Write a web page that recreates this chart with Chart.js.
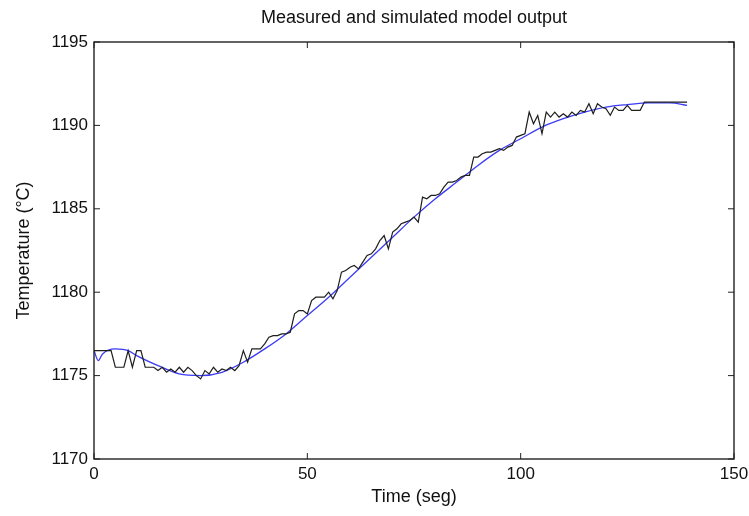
<!DOCTYPE html>
<html>
<head>
<meta charset="utf-8">
<script src="https://cdn.jsdelivr.net/npm/chart.js@4/dist/chart.umd.min.js"></script>
<style>
  html, body { margin: 0; padding: 0; background: #fff; }
  #wrap { width: 749px; height: 516px; }
</style>
</head>
<body>
<div id="wrap"><canvas id="plot"></canvas></div>
<script>
// Measured temperature, one sample per second (t = 0..139)
const measuredTime = [];
for (let t = 0; t <= 139; t++) measuredTime.push(t);
const measuredTemp = [
  1176.5, 1176.5, 1176.5, 1176.5, 1176.5, 1175.5, 1175.5, 1175.5, 1176.5, 1175.5,
  1176.5, 1176.5, 1175.5, 1175.5, 1175.5, 1175.3, 1175.5, 1175.2, 1175.4, 1175.2,
  1175.5, 1175.2, 1175.5, 1175.3, 1175.0, 1174.8, 1175.3, 1175.1, 1175.5, 1175.2,
  1175.4, 1175.3, 1175.5, 1175.3, 1175.6, 1176.5, 1175.8, 1176.6, 1176.6, 1176.6,
  1176.9, 1177.3, 1177.4, 1177.4, 1177.5, 1177.5, 1177.6, 1178.7, 1178.9, 1178.9,
  1178.7, 1179.5, 1179.7, 1179.7, 1179.7, 1180.0, 1179.6, 1180.1, 1181.2, 1181.3,
  1181.5, 1181.6, 1181.4, 1181.8, 1182.2, 1182.3, 1182.6, 1183.1, 1183.4, 1182.6,
  1183.6, 1183.8, 1184.1, 1184.2, 1184.3, 1184.5, 1184.2, 1185.7, 1185.6, 1185.8,
  1185.8, 1185.9, 1186.3, 1186.6, 1186.6, 1186.7, 1186.9, 1187.0, 1187.0, 1188.1,
  1188.1, 1188.3, 1188.4, 1188.4, 1188.5, 1188.6, 1188.5, 1188.7, 1188.8, 1189.3,
  1189.4, 1189.5, 1190.8, 1190.1, 1190.6, 1189.5, 1190.8, 1190.5, 1190.8, 1190.5,
  1190.7, 1190.5, 1190.8, 1190.6, 1190.9, 1190.8, 1191.3, 1190.7, 1191.3, 1191.1,
  1191.0, 1190.6, 1191.1, 1190.9, 1190.9, 1191.2, 1190.9, 1190.9, 1190.9, 1191.4,
  1191.4, 1191.4, 1191.4, 1191.4, 1191.4, 1191.4, 1191.4, 1191.4, 1191.4, 1191.4
];

// Simulated model output
const simTime = [0, 1, 2, 5, 8, 10, 15, 20, 25, 30, 35, 40, 45, 50, 55, 60, 65, 70,
  75, 80, 85, 90, 95, 100, 105, 110, 115, 120, 125, 130, 135, 139];
const simTemp = [1176.5, 1175.9, 1176.3, 1176.6, 1176.5, 1176.2, 1175.6, 1175.1, 1175.0,
  1175.2, 1175.8, 1176.6, 1177.5, 1178.6, 1179.7, 1180.9, 1182.1, 1183.3, 1184.5,
  1185.6, 1186.6, 1187.6, 1188.5, 1189.2, 1189.9, 1190.4, 1190.8, 1191.1, 1191.25,
  1191.35, 1191.35, 1191.2];

const xTicks = [0, 50, 100, 150];
const yTicks = [1170, 1175, 1180, 1185, 1190, 1195];

const toPoints = (xs, ys) => xs.map((x, i) => ({ x: x, y: ys[i] }));

// MATLAB style box with inward tick marks
const boxPlugin = {
  id: 'box',
  afterDraw(chart) {
    const { ctx, chartArea: a, scales } = chart;
    ctx.save();
    ctx.strokeStyle = '#222';
    ctx.lineWidth = 1.4;
    ctx.strokeRect(a.left, a.top, a.right - a.left, a.bottom - a.top);
    ctx.lineWidth = 1;
    ctx.beginPath();
    xTicks.forEach(v => {
      const px = scales.x.getPixelForValue(v);
      ctx.moveTo(px, a.bottom); ctx.lineTo(px, a.bottom - 6);
      ctx.moveTo(px, a.top); ctx.lineTo(px, a.top + 6);
    });
    yTicks.forEach(v => {
      const py = scales.y.getPixelForValue(v);
      ctx.moveTo(a.left, py); ctx.lineTo(a.left + 6, py);
      ctx.moveTo(a.right, py); ctx.lineTo(a.right - 6, py);
    });
    ctx.stroke();
    ctx.restore();
  }
};

const tickFont = { family: 'Arial, "Liberation Sans", sans-serif', size: 17 };
const titleFont = { family: 'Arial, "Liberation Sans", sans-serif', size: 18 };

new Chart(document.getElementById('plot'), {
  type: 'line',
  data: {
    datasets: [{
      label: 'Measured',
      data: toPoints(measuredTime, measuredTemp),
      borderColor: '#1e1e1e',
      borderWidth: 1.2,
      pointRadius: 0,
      tension: 0,
      fill: false
    }, {
      label: 'Simulated',
      data: toPoints(simTime, simTemp),
      borderColor: '#3b3bf5',
      borderWidth: 1.3,
      pointRadius: 0,
      cubicInterpolationMode: 'monotone',
      fill: false
    }]
  },
  options: {
    responsive: true,
    maintainAspectRatio: false,
    animation: false,
    layout: { padding: { top: 0, right: 15, left: 13, bottom: 8 } },
    plugins: {
      legend: { display: false },
      tooltip: { enabled: false },
      title: {
        display: true,
        fullSize: false,
        text: 'Measured and simulated model output',
        color: '#111',
        font: { ...titleFont, weight: 'normal' },
        padding: { top: 7, bottom: 13.4 }
      }
    },
    scales: {
      x: {
        type: 'linear',
        min: 0, max: 150,
        afterBuildTicks: s => { s.ticks = xTicks.map(v => ({ value: v })); },
        afterFit: s => { s.height = 49; s.paddingRight = 0; s.paddingLeft = 0; },
        grid: { display: false, drawTicks: false },
        border: { display: false },
        ticks: { color: '#111', font: tickFont, padding: 5, maxRotation: 0,
                 callback: v => String(v) },
        title: { display: true, text: 'Time (seg)', color: '#111', font: titleFont, padding: 0 }
      },
      y: {
        type: 'linear',
        min: 1170, max: 1195,
        afterBuildTicks: s => { s.ticks = yTicks.map(v => ({ value: v })); },
        afterFit: s => { s.width = 81; },
        grid: { display: false, drawTicks: false },
        border: { display: false },
        ticks: { color: '#111', font: tickFont, padding: 6, callback: v => String(v) },
        title: { display: true, text: 'Temperature (°C)', color: '#111', font: titleFont, padding: 0 }
      }
    }
  },
  plugins: [boxPlugin]
});
</script>
</body>
</html>
